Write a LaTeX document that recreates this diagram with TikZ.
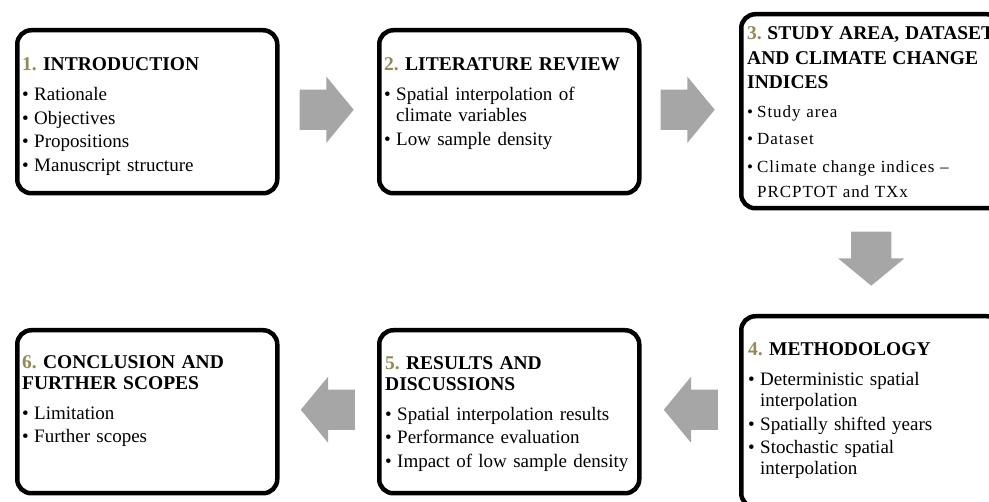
\documentclass[tikz,border=0pt]{standalone}
\usepackage{fontspec}
\setmainfont{Liberation Serif}
\usepackage{xcolor}
\usetikzlibrary{calc,shapes.arrows}
\definecolor{numtan}{RGB}{148,138,84}
\definecolor{arrowgray}{RGB}{166,166,166}
\newcommand{\headskip}{20.5}
\newcommand{\headgap}{6.5pt}
\newcommand{\bulind}{12pt}
\newcommand{\stagehead}[2]{{\fontsize{19.5}{\headskip}\selectfont\bfseries\textcolor{numtan}{#1}\ #2\par}\vspace{\headgap}}
\newcommand{\bul}[1]{\par\vspace{2.5pt}\hangindent=\bulind\hangafter=1\noindent\makebox[\bulind][l]{\textbullet}#1\par}

\tikzset{
  stagebox/.style={draw, line width=4.5pt, rounded corners=14pt, minimum width=260pt, minimum height=163pt, anchor=north west, inner sep=0pt},
  stagetext/.style={anchor=base west, text width=245pt, align=left, inner sep=0pt, font=\fontsize{19}{21}\selectfont\frenchspacing},
  flowarrow/.style={single arrow, fill=arrowgray, anchor=tail, minimum height=54pt, inner xsep=0pt, inner ysep=20pt, single arrow head extend=13pt, single arrow tip angle=101}
}

\begin{document}
\begin{tikzpicture}[x=1pt,y=-1pt]
    \clip (0,0) rectangle (989,502);

    % Stage boxes
    \node[stagebox] (intro) at (15,28) {};
    \node[stagebox] (litrev) at (377,28) {};
    \node[stagebox, minimum height=194pt] (study) at (739,12) {};
    \node[stagebox, minimum height=191pt] (method) at (739,314) {};
    \node[stagebox] (results) at (377,328) {};
    \node[stagebox] (concl) at (15,328) {};

    % Box contents
    \node[stagetext] (introtext) at ([shift={(7pt,-43pt)}]intro.north west) {%
        \stagehead{1.}{INTRODUCTION}%
        \bul{Rationale}%
        \bul{Objectives}%
        \bul{Propositions}%
        \bul{Manuscript structure}};
    \node[stagetext] (litrevtext) at ([shift={(7pt,-43pt)}]litrev.north west) {%
        \stagehead{2.}{LITERATURE REVIEW}%
        \bul{Spatial interpolation of\break climate variables}%
        \bul{Low sample density}};
    \node[stagetext, text width=300pt, font=\fontsize{17}{25}\selectfont\frenchspacing] (studytext) at ([shift={(8pt,-28pt)}]study.north west) {%
        \renewcommand{\headskip}{24.5}\renewcommand{\headgap}{1pt}\renewcommand{\bulind}{10pt}%
        \stagehead{3.}{STUDY AREA, DATASET\break AND CLIMATE CHANGE\break INDICES}%
        \addfontfeature{LetterSpace=5.5}%
        \bul{Study area}%
        \bul{Dataset}%
        \bul{Climate change indices --\break PRCPTOT and TXx}};
    \node[stagetext] (methodtext) at ([shift={(9pt,-42pt)}]method.north west) {%
        \stagehead{4.}{METHODOLOGY}%
        \bul{Deterministic spatial\break interpolation}%
        \bul{Spatially shifted years}%
        \bul{Stochastic spatial\break interpolation}};
    \node[stagetext] (resultstext) at ([shift={(8pt,-42pt)}]results.north west) {%
        \stagehead{5.}{RESULTS AND\break DISCUSSIONS}%
        \bul{Spatial interpolation results}%
        \bul{Performance evaluation}%
        \bul{Impact of low sample density}};
    \node[stagetext] (concltext) at ([shift={(7pt,-41pt)}]concl.north west) {%
        \stagehead{6.}{CONCLUSION AND\break FURTHER SCOPES}%
        \bul{Limitation}%
        \bul{Further scopes}};

    % Flow arrows
    \node[flowarrow] (introtolit) at ($(intro.east)+(20,-2)$) {};
    \node[flowarrow] (littostudy) at ($(litrev.east)+(19,-2)$) {};
    \node[flowarrow, rotate=270] (studytometh) at ($(study.south)+(0,21)$) {};
    \node[flowarrow, rotate=180] (methtores) at ($(method.west)+(-21,-2)$) {};
    \node[flowarrow, rotate=180] (restoconcl) at ($(results.west)+(-22,-2)$) {};
\end{tikzpicture}
\end{document}
